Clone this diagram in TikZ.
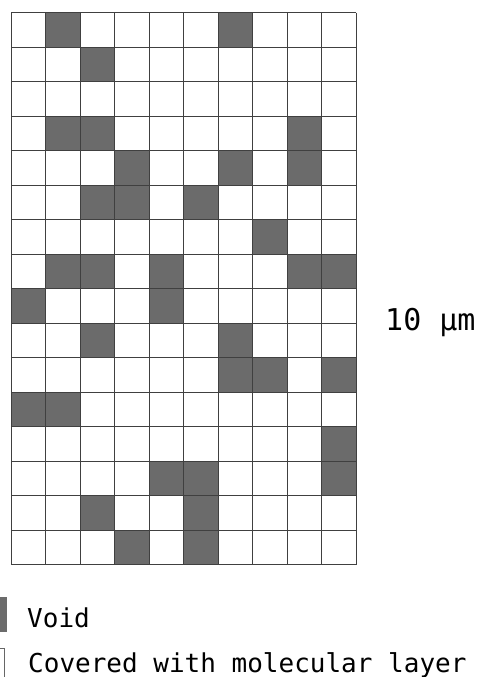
\documentclass[tikz,border=0pt]{standalone}
\usepackage{fontspec}
\newfontfamily\monofont{DejaVu Sans Mono}
\usetikzlibrary{positioning}

\begin{document}
\begin{tikzpicture}[
  x=1pt, y=-1pt,
  void/.style={fill=black!58},
  gridline/.style={draw=black!75, line width=0.8pt},
  lbl/.style={font=\monofont\fontsize{26}{30}\selectfont, inner sep=0pt, anchor=base west},
]
\useasboundingbox (0,0) rectangle (482,677);

% void cells, col/row from top left
\foreach \c/\r in {1/0,6/0,2/1,1/3,2/3,8/3,3/4,6/4,8/4,2/5,3/5,5/5,7/6,
                   1/7,2/7,4/7,8/7,9/7,0/8,4/8,2/9,6/9,6/10,7/10,9/10,
                   0/11,1/11,9/12,4/13,5/13,9/13,2/14,5/14,3/15,5/15}
  { \fill[void] ({11+34.5*\c},{12.7+34.5*\r}) rectangle ++(34.5,34.5); }

% grid 10 x 16
\foreach \i in {0,...,10} { \draw[gridline] ({11+34.5*\i},12.7) -- ++(0,552); }
\foreach \j in {0,...,16} { \draw[gridline] (11,{12.7+34.5*\j}) -- ++(345,0); }

\node[lbl, font=\monofont\fontsize{30}{34}\selectfont] (size) at (385,330) {10 μm};

% legend
\node[void, minimum width=7pt, minimum height=35pt, inner sep=0pt, anchor=north west] (voidkey) at (0,597) {};
\node[lbl] (voidtxt) at (27,627) {Void};
\draw[black!60, line width=0.8pt] (0,648) -- (4.5,648) -- (4.5,677);
\node[lbl] (covtxt) at (28,672) {Covered with molecular layer};
\end{tikzpicture}
\end{document}
